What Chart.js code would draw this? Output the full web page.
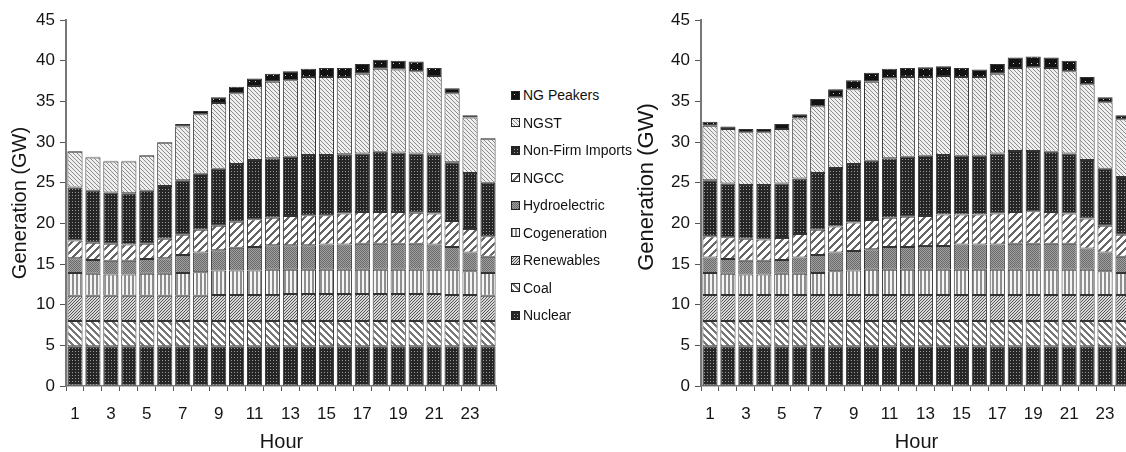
<!DOCTYPE html>
<html>
<head>
<meta charset="utf-8">
<script src="https://cdn.jsdelivr.net/npm/chart.js@4/dist/chart.umd.min.js"></script>
<style>
  html, body { margin: 0; padding: 0; background: #fff; overflow: hidden; }
  #wrap { position: relative; width: 1126px; height: 452px; overflow: hidden; background: #fff; }
  #left { position: absolute; left: 0; top: 0; }
  #right { position: absolute; left: 620px; top: 0; }
  #legend { position: absolute; left: 511px; top: 0; font: 14px "Liberation Sans", Arial, sans-serif; color: #111; }
  .item { position: absolute; left: 0; height: 18px; display: flex; align-items: center; white-space: nowrap; }
  .item canvas { margin-right: 3px; }
</style>
</head>
<body>
<div id="wrap">
  <canvas id="left" width="501" height="452"></canvas>
  <div id="legend"></div>
  <canvas id="right" width="516" height="452"></canvas>
</div>
<script>
// Hour of day (category axis)
const hourLabels = ['1','2','3','4','5','6','7','8','9','10','11','12','13','14','15','16','17','18','19','20','21','22','23','24'];

// Generation by source, bottom of the stack first
const seriesNames = ['Nuclear', 'Coal', 'Renewables', 'Cogeneration', 'Hydroelectric', 'NGCC', 'Non-Firm Imports', 'NGST', 'NG Peakers'];

// Left panel (GW)
const leftNuclear  = [4.9,4.9,4.9,4.9,4.9,4.9,4.9,4.9,4.9,4.9,4.9,4.9,4.9,4.9,4.9,4.9,4.9,4.9,4.9,4.9,4.9,4.9,4.9,4.9];
const leftCoal     = [3.1,3.1,3.1,3.1,3.1,3.1,3.1,3.1,3.1,3.1,3.1,3.1,3.1,3.1,3.1,3.1,3.1,3.1,3.1,3.1,3.1,3.1,3.1,3.1];
const leftRenew    = [3.1,3.1,3.1,3.1,3.1,3.1,3.1,3.1,3.2,3.2,3.2,3.2,3.3,3.3,3.3,3.3,3.3,3.3,3.3,3.3,3.3,3.2,3.2,3.1];
const leftCogen    = [2.8,2.7,2.6,2.6,2.7,2.7,2.8,2.9,3.0,3.0,3.0,3.1,3.0,3.0,3.0,3.0,3.0,3.0,3.0,3.0,3.0,3.1,2.9,2.8];
const leftHydro    = [1.8,1.7,1.7,1.7,1.8,1.9,2.2,2.4,2.5,2.8,2.9,3.0,3.0,3.0,3.1,3.1,3.2,3.2,3.2,3.2,3.1,2.8,2.3,2.0];
const leftNgcc     = [2.2,2.1,2.1,2.0,1.9,2.4,2.5,2.8,3.0,3.2,3.4,3.4,3.6,3.7,3.6,3.8,3.9,3.9,3.9,3.8,3.8,3.2,2.9,2.5];
const leftImports  = [6.5,6.4,6.3,6.3,6.5,6.5,6.7,6.9,7.0,7.1,7.3,7.3,7.3,7.4,7.4,7.3,7.2,7.4,7.3,7.3,7.3,7.2,6.9,6.6];
const leftNgst     = [4.4,4.1,3.8,3.9,4.3,5.3,6.6,7.3,8.1,8.7,9.1,9.4,9.4,9.6,9.6,9.5,9.8,10.2,10.2,10.1,9.6,8.5,6.8,5.4];
const leftPeakers  = [0.1,0.1,0.1,0.1,0.1,0.1,0.3,0.4,0.7,0.8,0.9,1.0,1.1,1.0,1.1,1.1,1.2,1.1,1.1,1.2,1.0,0.6,0.3,0.1];

// Right panel (GW)
const rightNuclear = [4.9,4.9,4.9,4.9,4.9,4.9,4.9,4.9,4.9,4.9,4.9,4.9,4.9,4.9,4.9,4.9,4.9,4.9,4.9,4.9,4.9,4.9,4.9,4.9];
const rightCoal    = [3.1,3.1,3.1,3.1,3.1,3.1,3.1,3.1,3.1,3.1,3.1,3.1,3.1,3.1,3.1,3.1,3.1,3.1,3.1,3.1,3.1,3.1,3.1,3.1];
const rightRenew   = [3.2,3.2,3.2,3.2,3.2,3.2,3.2,3.2,3.2,3.2,3.2,3.2,3.2,3.2,3.2,3.2,3.2,3.2,3.2,3.2,3.2,3.2,3.2,3.2];
const rightCogen   = [2.7,2.6,2.5,2.5,2.6,2.6,2.7,2.9,3.0,3.1,3.1,3.1,3.1,3.1,3.1,3.1,3.1,3.1,3.1,3.1,3.1,3.1,2.9,2.7];
const rightHydro   = [1.9,1.8,1.7,1.7,1.7,2.0,2.2,2.3,2.4,2.5,2.8,2.8,2.9,2.9,3.1,3.1,3.1,3.2,3.2,3.2,3.2,2.6,2.3,2.0];
const rightNgcc    = [2.6,2.7,2.7,2.6,2.7,2.9,3.1,3.2,3.5,3.6,3.6,3.7,3.7,3.9,3.7,3.7,3.8,3.9,4.0,3.9,3.7,3.7,3.3,2.7];
const rightImports = [6.9,6.6,6.6,6.7,6.7,6.8,7.0,7.2,7.2,7.3,7.3,7.4,7.4,7.3,7.2,7.2,7.4,7.5,7.4,7.4,7.4,7.2,7.0,7.1];
const rightNgst    = [6.7,6.7,6.5,6.5,6.7,7.4,8.2,8.7,9.2,9.7,9.8,9.8,9.7,9.7,9.7,9.7,9.8,10.2,10.3,10.3,10.1,9.3,8.2,7.1];
const rightPeakers = [0.5,0.3,0.4,0.4,0.6,0.5,0.9,1.0,1.1,1.1,1.2,1.1,1.2,1.2,1.1,0.9,1.2,1.3,1.3,1.3,1.3,0.9,0.6,0.5];

const FONT = '"Liberation Sans", Arial, sans-serif';
const INK = '#151515';

// Monochrome fill tiles, one per source, built pixel by pixel
function tile(size, colorAt) {
  const c = document.createElement('canvas');
  c.width = c.height = size;
  const g = c.getContext('2d');
  for (let y = 0; y < size; y++) {
    for (let x = 0; x < size; x++) {
      g.fillStyle = colorAt(x, y);
      g.fillRect(x, y, 1, 1);
    }
  }
  return c;
}
const mod = (a, n) => ((a % n) + n) % n;
const tiles = {
  'Nuclear':          tile(3, (x, y) => (x === 0 && y === 0) ? '#9a9a9a' : '#262626'),
  'Coal':             tile(7, (x, y) => mod(x - y, 7) < 3 ? '#777777' : '#ffffff'),
  'Renewables':       tile(3, (x, y) => mod(x + y, 3) === 0 ? '#555555' : '#d8d8d8'),
  'Cogeneration':     tile(4, (x, y) => x < 2 ? '#8e8e8e' : '#f6f6f6'),
  'Hydroelectric':    tile(2, (x, y) => (x + y) % 2 === 0 ? '#6a6a6a' : '#a0a0a0'),
  'NGCC':             tile(8, (x, y) => mod(x + y, 8) < 3 ? '#666666' : '#ffffff'),
  'Non-Firm Imports': tile(3, (x, y) => (x === 0 && y === 0) ? '#9a9a9a' : '#262626'),
  'NGST':             tile(4, (x, y) => mod(x - y, 4) === 0 ? '#8c8c8c' : '#efefef'),
  'NG Peakers':       tile(6, (x, y) => (x === 3 && y === 3) ? '#cfcfcf' : '#121212')
};
function pattern(ctx, name) {
  return ctx.createPattern(tiles[name], 'repeat');
}

// Rotated axis caption placed at a given point of the canvas
const axisCaption = {
  id: 'axisCaption',
  afterDraw(chart, args, opts) {
    if (!opts || !opts.text) return;
    const ctx = chart.ctx;
    ctx.save();
    ctx.translate(opts.x, opts.y);
    ctx.rotate(-Math.PI / 2);
    ctx.font = opts.size + 'px ' + FONT;
    ctx.fillStyle = INK;
    ctx.textAlign = 'center';
    ctx.textBaseline = 'middle';
    ctx.fillText(opts.text, 0, 0);
    ctx.restore();
  }
};

function buildChart(canvasId, values, yAxisWidth, yTitle, caption) {
  const canvas = document.getElementById(canvasId);
  const ctx = canvas.getContext('2d');
  const datasets = seriesNames.map((name, i) => ({
    label: name,
    data: values[i],
    backgroundColor: pattern(ctx, name),
    borderColor: '#333',
    borderWidth: 1,
    borderSkipped: false,
    barPercentage: 0.845,
    categoryPercentage: 1
  }));
  return new Chart(ctx, {
    type: 'bar',
    data: { labels: hourLabels, datasets },
    plugins: [axisCaption],
    options: {
      responsive: false,
      animation: false,
      events: [],
      layout: { padding: { top: 20, right: 0, bottom: 0, left: 0 } },
      plugins: { legend: { display: false }, tooltip: { enabled: false }, axisCaption: caption },
      scales: {
        x: {
          stacked: true,
          grid: { offset: true, drawOnChartArea: false, drawTicks: true, tickLength: 5, color: '#555', lineWidth: 1 },
          border: { display: true, color: '#777', width: 1.5 },
          ticks: {
            autoSkip: false, maxRotation: 0, minRotation: 0, padding: 13,
            color: INK, font: { family: FONT, size: 17 },
            callback: (v, i) => (i % 2 === 0 ? hourLabels[i] : '')
          },
          title: { display: true, text: 'Hour', color: INK, font: { family: FONT, size: 20, lineHeight: 1 }, padding: { top: 0, bottom: 0 } },
          afterFit: (s) => { s.height = 66; }
        },
        y: {
          stacked: true,
          min: 0, max: 45,
          grid: { drawOnChartArea: false, drawTicks: true, tickLength: 6, color: '#555', lineWidth: 1 },
          border: { display: true, color: '#777', width: 2 },
          ticks: { stepSize: 5, padding: 5, color: INK, font: { family: FONT, size: 17 } },
          title: yTitle,
          afterFit: (s) => { s.width = yAxisWidth; }
        }
      }
    }
  });
}

buildChart('left',
  [leftNuclear, leftCoal, leftRenew, leftCogen, leftHydro, leftNgcc, leftImports, leftNgst, leftPeakers],
  66,
  { display: true, text: 'Generation (GW)', color: INK, font: { family: FONT, size: 20, lineHeight: 1 }, padding: { top: 10, bottom: 0 } },
  null);
buildChart('right',
  [rightNuclear, rightCoal, rightRenew, rightCogen, rightHydro, rightNgcc, rightImports, rightNgst, rightPeakers],
  81,
  { display: false },
  { text: 'Generation (GW)', x: 27, y: 187, size: 22 });

// Shared legend, top of the stack listed first
const legend = document.getElementById('legend');
seriesNames.slice().reverse().forEach((name, i) => {
  const row = document.createElement('div');
  row.className = 'item';
  row.style.top = (86 + i * 27.5) + 'px';
  const sw = document.createElement('canvas');
  sw.width = 9; sw.height = 9;
  const g = sw.getContext('2d');
  g.fillStyle = pattern(g, name);
  g.fillRect(0, 0, 9, 9);
  g.strokeStyle = '#222';
  g.lineWidth = 1;
  g.strokeRect(0.5, 0.5, 8, 8);
  const label = document.createElement('span');
  label.textContent = name;
  row.appendChild(sw);
  row.appendChild(label);
  legend.appendChild(row);
});
</script>
</body>
</html>
